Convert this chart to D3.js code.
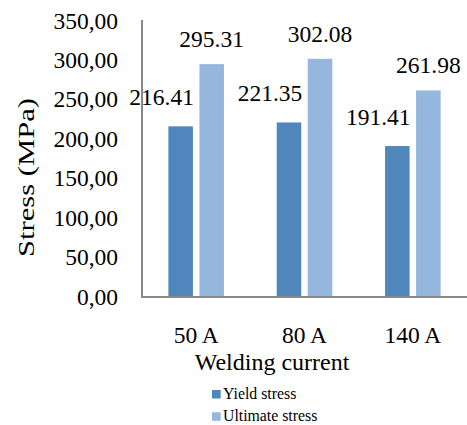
<!DOCTYPE html>
<html>
<head>
<meta charset="utf-8">
<style>
  body { margin: 0; padding: 0; overflow: hidden; background: #fff; }
</style>
</head>
<body>
<div id="chart"></div>
<script src="https://cdn.jsdelivr.net/npm/d3@7"></script>
<script>
// data
var categories = ["50 A", "80 A", "140 A"];
var seriesNames = ["Yield stress", "Ultimate stress"];
var yieldStress = [216.41, 221.35, 191.41];
var ultimateStress = [295.31, 302.08, 261.98];
var yTicks = [0, 50, 100, 150, 200, 250, 300, 350];

var colors = ["#4f86bc", "#95b6dd"];
var font = "'Liberation Serif', 'DejaVu Serif', serif";
var width = 467, height = 425;

var svg = d3.select("#chart").append("svg")
  .attr("width", width).attr("height", height)
  .style("font-family", font);

var x0 = d3.scaleBand().domain(categories).range([142, 467]);
var x1 = d3.scaleBand().domain(seriesNames).range([0, x0.bandwidth()])
  .paddingInner(0.21).paddingOuter(0.85);
var y = d3.scaleLinear().domain([0, 350]).range([297, 21]);

var comma = d3.formatLocale({decimal: ",", thousands: ".", grouping: [3], currency: ["", ""]}).format(".2f");

// y tick labels
svg.append("g").selectAll("text").data(yTicks).enter().append("text")
  .attr("x", 118).attr("y", d => y(d) + 7.5)
  .attr("text-anchor", "end")
  .attr("font-family", font)
  .style("font-size", "23.5px")
  .text(d => comma(d));

// bars
var rows = categories.map((c, i) => ({cat: c, vals: [yieldStress[i], ultimateStress[i]]}));
var groups = svg.append("g").selectAll("g").data(rows).enter().append("g")
  .attr("transform", d => "translate(" + x0(d.cat) + ",0)");

groups.selectAll("rect").data(d => d.vals.map((v, j) => ({name: seriesNames[j], v: v, j: j})))
  .enter().append("rect")
  .attr("x", d => x1(d.name))
  .attr("width", x1.bandwidth())
  .attr("y", d => y(d.v))
  .attr("height", d => y(0) - y(d.v))
  .attr("fill", d => colors[d.j]);

// value labels: yield label sits to the left of its bar, ultimate label centered
groups.selectAll("text.val").data(d => d.vals.map((v, j) => ({name: seriesNames[j], v: v, j: j})))
  .enter().append("text")
  .attr("class", "val")
  .attr("x", d => d.j === 0 ? x1(d.name) + x1.bandwidth() + 1 : x1(d.name) + x1.bandwidth() / 2)
  .attr("y", d => d.j === 0 ? y(d.v) - 21 : y(d.v) - 17)
  .attr("text-anchor", d => d.j === 0 ? "end" : "middle")
  .attr("font-family", font)
  .style("font-size", "23.5px")
  .text(d => d.v.toFixed(2));

// axes lines
svg.append("line").attr("x1", 142).attr("x2", 142).attr("y1", 20).attr("y2", y(0))
  .attr("stroke", "#898989").attr("stroke-width", 2);
svg.append("line").attr("x1", 141).attr("x2", 467).attr("y1", y(0)).attr("y2", y(0))
  .attr("stroke", "#898989").attr("stroke-width", 2);

// category labels
svg.append("g").selectAll("text").data(categories).enter().append("text")
  .attr("x", d => x0(d) + x0.bandwidth() / 2).attr("y", 343)
  .attr("text-anchor", "middle")
  .attr("font-family", font)
  .style("font-size", "23.5px")
  .text(d => d);

// axis titles
svg.append("text").attr("x", 272).attr("y", 370)
  .attr("text-anchor", "middle").attr("font-family", font).style("font-size", "24px")
  .text("Welding current");

svg.append("text")
  .attr("transform", "translate(34,177.5) rotate(-90)")
  .attr("text-anchor", "middle").attr("font-family", font).style("font-size", "23px")
  .attr("textLength", 159).attr("lengthAdjust", "spacingAndGlyphs")
  .text("Stress (MPa)");

// legend
var leg = svg.append("g").selectAll("g").data(seriesNames).enter().append("g")
  .attr("transform", (d, i) => "translate(212," + (390 + i * 22.3) + ")");
leg.append("rect").attr("width", 8.7).attr("height", 8.5).attr("fill", (d, i) => colors[i]);
leg.append("text").attr("x", 11).attr("y", 8.5).attr("font-family", font)
  .style("font-size", "15.8px").text(d => d);
</script>
</body>
</html>
